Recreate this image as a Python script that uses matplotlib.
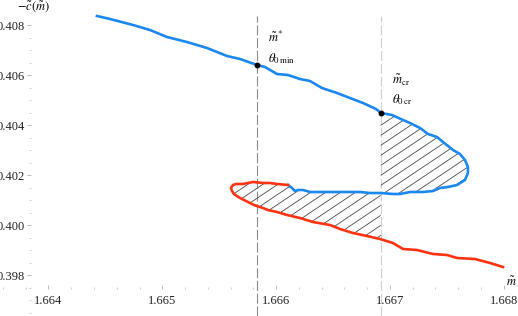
import numpy as np
import matplotlib
matplotlib.use('Agg')
import matplotlib.pyplot as plt
from matplotlib.patches import Polygon
from matplotlib.ticker import MultipleLocator

plt.rcParams['font.family'] = 'serif'
plt.rcParams['font.serif'] = ['Liberation Serif', 'DejaVu Serif']
plt.rcParams['mathtext.fontset'] = 'stix'

# stable branch (blue): upper branch, turning point, middle branch
blue_m = [1.664426, 1.664541, 1.664743, 1.664892, 1.665041, 1.665217, 1.665393,
          1.665569, 1.665683, 1.665832, 1.665903, 1.666008, 1.666105, 1.666210,
          1.666298, 1.666403, 1.666535, 1.666649, 1.666764, 1.666878, 1.666922,
          1.667019, 1.667115, 1.667177, 1.667265, 1.667335, 1.667414, 1.667467,
          1.667555, 1.667616, 1.667660, 1.667686, 1.667686, 1.667660, 1.667590,
          1.667511, 1.667440, 1.667379, 1.667291, 1.667177, 1.667089, 1.667027,
          1.666922, 1.666825, 1.666737, 1.666649, 1.666562, 1.666412, 1.666298,
          1.666236, 1.666193, 1.666166, 1.666140, 1.666105]
blue_c = [0.40838, 0.40826, 0.40802, 0.40782, 0.40754, 0.40734, 0.40710,
          0.40678, 0.40666, 0.40642, 0.40634, 0.40606, 0.40602, 0.40586,
          0.40578, 0.40550, 0.40530, 0.40510, 0.40490, 0.40466, 0.40450,
          0.40442, 0.40422, 0.40410, 0.40390, 0.40366, 0.40354, 0.40334,
          0.40302, 0.40286, 0.40262, 0.40234, 0.40210, 0.40182, 0.40162,
          0.40154, 0.40150, 0.40138, 0.40134, 0.40134, 0.40126, 0.40126,
          0.40130, 0.40130, 0.40134, 0.40134, 0.40134, 0.40134, 0.40134,
          0.40142, 0.40142, 0.40138, 0.40150, 0.40162]

# unstable branch (red): left turning point and lower branch
red_m = [1.666105, 1.666008, 1.665946, 1.665885, 1.665797, 1.665709, 1.665648,
         1.665621, 1.665604, 1.665613, 1.665630, 1.665683, 1.665771, 1.665806,
         1.665832, 1.665885, 1.665929, 1.666008, 1.666096, 1.666210, 1.666324,
         1.666474, 1.666562, 1.666676, 1.666799, 1.666913, 1.667027, 1.667115,
         1.667238, 1.667379, 1.667502, 1.667590, 1.667748, 1.667880, 1.667994]
red_c = [0.40162, 0.40166, 0.40170, 0.40170, 0.40174, 0.40166, 0.40166,
         0.40162, 0.40150, 0.40138, 0.40126, 0.40110, 0.40090, 0.40082,
         0.40078, 0.40070, 0.40062, 0.40054, 0.40042, 0.40030, 0.40014,
         0.40002, 0.39986, 0.39970, 0.39958, 0.39946, 0.39930, 0.39906,
         0.39902, 0.39886, 0.39882, 0.39870, 0.39866, 0.39850, 0.39834]

m_star, c_star = 1.66583, 0.40642
m_cr, c_cr = 1.66692, 0.40450

xlim = (1.663574, 1.668126)
ylim = (0.39638, 0.40902)

fig = plt.figure(figsize=(5.18, 3.16), dpi=100)
ax = fig.add_axes([0, 0, 1, 1])
ax.set_xlim(*xlim)
ax.set_ylim(*ylim)

# axes crossing like Mathematica, axis lines invisible, only ticks
ax.spines['left'].set_position(('data', 1.663846))
ax.spines['bottom'].set_position(('data', 0.39746))
for s in ['left', 'bottom', 'top', 'right']:
    ax.spines[s].set_color('none')
ax.xaxis.set_major_locator(MultipleLocator(0.001))
ax.xaxis.set_minor_locator(MultipleLocator(0.0002))
ax.yaxis.set_major_locator(MultipleLocator(0.002))
ax.yaxis.set_minor_locator(MultipleLocator(0.0005))
ax.xaxis.set_major_formatter(plt.FuncFormatter(lambda v, p: f"{v:.3f}"))
ax.yaxis.set_major_formatter(plt.FuncFormatter(lambda v, p: f"{v:.3f}"))
ax.tick_params(which='major', length=3, width=0.6, color='#b0b0b0',
               labelsize=9, labelcolor='#222222', pad=1.5)
ax.tick_params(which='minor', length=1.5, width=0.6, color='#c8c8c8')
ax.tick_params(axis='y', which='both', direction='out')
ax.tick_params(axis='x', which='both', direction='in')
ax.tick_params(axis='x', which='major', pad=4)

# hatched regions between branches, split at m_cr
path_m = np.array(blue_m + red_m[1:])
path_c = np.array(blue_c + red_c[1:])
d = path_m - m_cr
cross = np.where(np.sign(d[:-1]) != np.sign(d[1:]))[0]

def cross_pt(i):
    t = (m_cr - path_m[i]) / (path_m[i + 1] - path_m[i])
    return m_cr, path_c[i] + t * (path_c[i + 1] - path_c[i])

pts = [cross_pt(i) for i in cross[:3]]
lobe_r = [pts[0]] + list(zip(path_m[cross[0] + 1:cross[1] + 1], path_c[cross[0] + 1:cross[1] + 1])) + [pts[1]]
lobe_l = [pts[1]] + list(zip(path_m[cross[1] + 1:cross[2] + 1], path_c[cross[1] + 1:cross[2] + 1])) + [pts[2]]

slope = 3.05
offsets = np.arange(0.3920, 0.4140, 0.0004)
hx = np.array([1.6635, 1.6685])
for lobe in (lobe_r, lobe_l):
    poly = Polygon(lobe, closed=True, facecolor='none', edgecolor='none')
    ax.add_patch(poly)
    for c0 in offsets:
        ln, = ax.plot(hx, c0 + slope * (hx - 1.666), color='#4a4a4a', lw=0.6, zorder=1)
        ln.set_clip_path(poly)

# reference lines
ax.axvline(m_star, ymin=0, ymax=0.949, color='#8a8a8a', lw=0.8, dashes=(9, 2.5), zorder=0)
ax.axvline(m_cr, ymin=0, ymax=0.949, color='#d0d0d0', lw=0.8, dashes=(9, 2.5), zorder=0)

ax.plot(blue_m, blue_c, color='#1a88f0', lw=1.9, solid_joinstyle='round', zorder=3)
ax.plot(red_m, red_c, color='#ff3311', lw=1.9, solid_joinstyle='round', zorder=3)
ax.plot([m_star, m_cr], [c_star, c_cr], 'o', color='black', ms=3.2, zorder=4)

ax.text(m_star + 0.0001, 0.40754, r'$\tilde{m}^{*}$', fontsize=9, ha='left', va='center')
ax.text(m_star + 0.0001, 0.40666, r'$\theta_{0\,\mathrm{min}}$', fontsize=9, ha='left', va='center')
ax.text(m_cr + 0.0001, 0.40580, r'$\tilde{m}_{\mathrm{cr}}$', fontsize=9, ha='left', va='center')
ax.text(m_cr + 0.0001, 0.40502, r'$\theta_{0\,\mathrm{cr}}$', fontsize=9, ha='left', va='center')

ax.text(0.064, 0.978, r'$-\tilde{c}(\tilde{m})$', transform=ax.transAxes,
        fontsize=9, ha='center', va='center')
ax.text(0.988, 0.105, r'$\tilde{m}$', transform=ax.transAxes,
        fontsize=9, ha='center', va='center')

fig.savefig('out.png', dpi=100)
